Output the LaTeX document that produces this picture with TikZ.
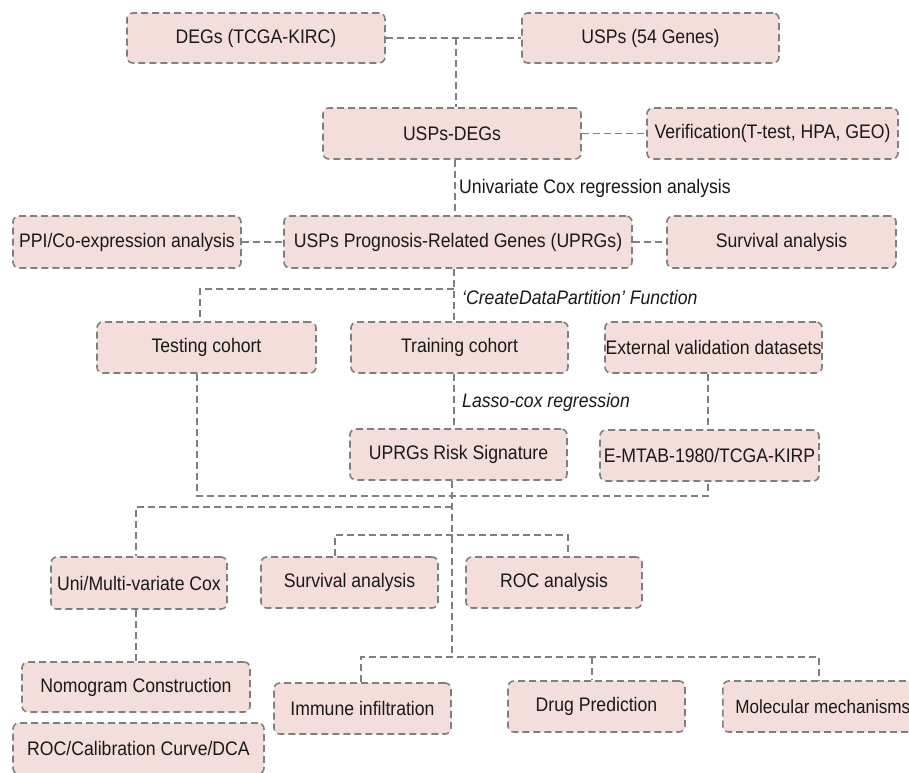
\documentclass[tikz,border=0pt]{standalone}
\usepackage{fontspec}
\setmainfont{Liberation Sans}[FakeStretch=0.9]
\definecolor{boxgray}{HTML}{7F7F7F}
\definecolor{boxfill}{HTML}{F4DEDB}
\begin{document}
\begin{tikzpicture}[x=1pt,y=-1pt,
  box/.style={draw=boxgray, line width=1.6pt, dash pattern=on 7pt off 4pt, fill=boxfill,
    rounded corners=6pt, minimum height=51pt, inner sep=0pt,
    font=\fontsize{19.6}{22}\selectfont, text=black!90},
  conn/.style={draw=boxgray, line width=1.6pt, dash pattern=on 7pt off 4pt},
  lbl/.style={inner sep=0pt, anchor=west, font=\fontsize{19.6}{22}\selectfont, text=black!90},
  ilbl/.style={lbl, font=\fontsize{19.6}{22}\selectfont\itshape}]
\useasboundingbox (0,0) rectangle (909,772);
\fill[white] (0,0) rectangle (909,772);
\clip (0,0) rectangle (909,772);

\coordinate (j1) at (456,38);
\coordinate (j2) at (200,289);
\coordinate (j3) at (197,496);
\coordinate (j4) at (708,496);
\coordinate (j5) at (136,507);
\coordinate (j6) at (452,507);
\coordinate (j7) at (335,535);
\coordinate (j8) at (568,535);
\coordinate (j9) at (452,657);
\coordinate (j10) at (361,657);
\coordinate (j11) at (592,657);
\coordinate (j12) at (819,657);

% boxes
\node[box, minimum width=258pt, minimum height=50pt] (degs) at (256,38) {DEGs (TCGA-KIRC)};
\node[box, minimum width=257pt, minimum height=50pt] (usps) at (650.5,38) {USPs (54 Genes)};
\node[box, minimum width=258pt] (uspsdegs) at (452,133.5) {USPs-DEGs};
\node[box, minimum width=251pt] (verif) at (772.5,133.5) {Verification(T-test, HPA, GEO)};
\node[box, minimum width=228pt, minimum height=52pt] (ppi) at (127,242) {PPI/Co-expression analysis};
\node[box, minimum width=348pt, minimum height=52pt] (uprgs) at (458,242) {USPs Prognosis-Related Genes (UPRGs)};
\node[box, minimum width=229pt, minimum height=52pt] (surv1) at (781.5,242) {Survival analysis};
\node[box, minimum width=219pt] (testing) at (206.5,347.5) {Testing cohort};
\node[box, minimum width=217pt] (training) at (459.5,347.5) {Training cohort};
\node[box, minimum width=217pt] (external) at (713.5,347.5) {External validation datasets};
\node[box, minimum width=217pt] (risk) at (458.5,454.5) {UPRGs Risk Signature};
\node[box, minimum width=219pt] (emtab) at (709.5,455.5) {E-MTAB-1980/TCGA-KIRP};
\node[box, minimum width=176pt, minimum height=52pt] (uni) at (139,583) {Uni/Multi-variate Cox};
\node[box, minimum width=177pt] (surv2) at (349.5,582.5) {Survival analysis};
\node[box, minimum width=176pt] (roc) at (554,582.5) {ROC analysis};
\node[box, minimum width=228pt, minimum height=50pt] (nomo) at (136,687) {Nomogram Construction};
\node[box, minimum width=251pt] (roccal) at (138.5,748.5) {ROC/Calibration Curve/DCA};
\node[box, minimum width=177pt] (immune) at (362.5,708.5) {Immune infiltration};
\node[box, minimum width=177pt] (drug) at (596.5,706.5) {Drug Prediction};
\node[box, minimum width=200pt, anchor=west, font=\fontsize{19}{22}\selectfont] (molec) at (722,706.5) {Molecular mechanisms\hspace{22pt}};

% connectors
\draw[conn] (degs.east) -- (usps.west);
\draw[conn] (j1) -- (j1 |- uspsdegs.north);
\draw[conn] (uspsdegs.east) -- (verif.west);
\draw[conn] (uspsdegs.south -| 455,0) -- (uprgs.north -| 455,0);
\draw[conn] (ppi.east) -- (uprgs.west);
\draw[conn] (uprgs.east) -- (surv1.west);
\draw[conn] (uprgs.south -| 454,0) -- (training.north -| 454,0);
\draw[conn] (j2 -| 454,0) -- (j2) -- (j2 |- testing.north);
\draw[conn] (training.south -| 454,0) -- (risk.north -| 454,0);
\draw[conn] (external.south -| j4) -- (emtab.north -| j4);
\draw[conn] (testing.south -| j3) -- (j3) -- (j4) -- (emtab.south -| j4);
\draw[conn] (risk.south -| j9) -- (j9);
\draw[conn] (j6) -- (j5) -- (j5 |- uni.north);
\draw[conn] (j7 |- surv2.north) -- (j7) -- (j8) -- (j8 |- roc.north);
\draw[conn] (j10 |- immune.north) -- (j10) -- (j12) -- (j12 |- molec.north);
\draw[conn] (j11) -- (j11 |- drug.north);
\draw[conn] (uni.south -| j5) -- (nomo.north -| j5);

% labels
\node[lbl] (l1) at (459,188) {Univariate Cox regression analysis};
\node[ilbl] (l2) at (462,297) {`CreateDataPartition' Function};
\node[ilbl] (l3) at (462,402) {Lasso-cox regression};
\end{tikzpicture}
\end{document}
